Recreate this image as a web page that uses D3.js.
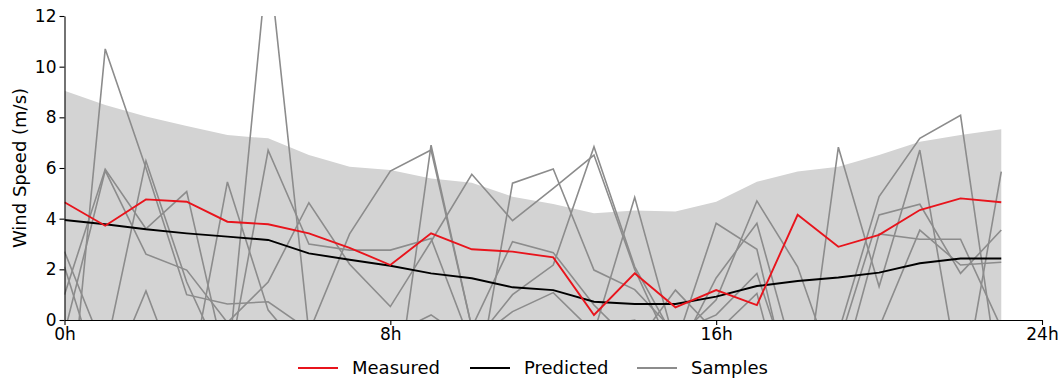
<!DOCTYPE html>
<html>
<head>
<meta charset="utf-8">
<script src="https://cdn.jsdelivr.net/npm/d3@7/dist/d3.min.js"></script>
<style>
  html, body { margin: 0; padding: 0; background: #fff; }
  svg { display: block; font-family: "DejaVu Sans", sans-serif; }
</style>
</head>
<body>
<svg id="chart" width="1064" height="380"></svg>
<script>
// Hour of day for each reading
const hours = [0,1,2,3,4,5,6,7,8,9,10,11,12,13,14,15,16,17,18,19,20,21,22,23];

// Observed wind speed (m/s)
const measured = [4.65,3.72,4.76,4.67,3.88,3.78,3.42,2.85,2.17,3.42,2.79,2.70,2.47,0.20,1.84,0.50,1.18,0.59,4.15,2.89,3.36,4.34,4.80,4.65];

// Model forecast (m/s)
const predicted = [3.95,3.78,3.58,3.42,3.29,3.16,2.63,2.38,2.14,1.84,1.65,1.29,1.18,0.72,0.63,0.63,0.92,1.34,1.54,1.68,1.87,2.24,2.43,2.43];

// Upper edge of the forecast uncertainty band (m/s)
const bandUpper = [9.05,8.49,8.03,7.66,7.30,7.17,6.51,6.05,5.92,5.59,5.42,4.87,4.58,4.21,4.32,4.28,4.67,5.46,5.86,6.05,6.51,7.04,7.30,7.53];

// Ensemble sample trajectories (m/s)
const sample1 = [-6.0,10.7,6.0,1.0,0.63,0.72,-0.4,-1.5,-0.6,0.2,-0.9,0.33,1.08,-0.5,4.84,-1.0,3.82,2.79,-4.0,-0.5,4.87,7.17,8.08,-3.0];
const sample2 = [1.0,5.95,3.6,5.07,-2.0,14.5,-0.5,3.4,5.88,6.71,-0.3,3.09,2.66,0.59,-1.0,1.18,-0.5,1.05,-5.0,6.82,1.32,6.71,-2.6,-1.0];
const sample3 = [-0.5,5.9,2.6,1.97,-0.1,1.5,4.63,2.2,0.53,3.1,5.75,3.92,5.2,6.51,2.0,-1.5,1.66,3.82,-2.0,-1.0,4.15,4.57,1.84,3.55];
const sample4 = [2.7,-1.3,6.28,1.5,-2.0,6.7,3.0,2.76,2.76,3.22,-1.0,1.0,2.17,6.84,2.1,-0.8,0.8,4.7,2.1,-2.5,3.4,3.19,3.19,-0.3];
const sample5 = [-2.0,-2.7,1.15,-3.1,5.45,0.39,-1.5,-2.5,-4.6,6.9,-0.3,-1.0,-0.5,-0.3,0.0,-1.5,-0.8,-0.5,-1.5,-0.5,-0.3,3.55,2.17,2.28];
const sample6 = [2.1,-3.0,-1.5,-2.0,-1.5,-1.0,-2.0,-1.0,-2.0,-1.5,-3.7,5.4,5.96,1.97,1.2,-0.5,0.2,1.84,-3.0,-2.0,-1.5,-1.0,-3.3,5.86];
const samples = [sample1, sample2, sample3, sample4, sample5, sample6];

// Axis ticks
const xTicks = [0, 8, 16, 24];
const xTickLabels = ["0h", "8h", "16h", "24h"];
const yTicks = [0, 2, 4, 6, 8, 10, 12];

const legendItems = [
  { label: "Measured", color: "#e8141c" },
  { label: "Predicted", color: "#000000" },
  { label: "Samples", color: "#8c8c8c" }
];

const svg = d3.select("#chart");
const plot = { left: 64.5, right: 1042, top: 16, bottom: 320 };

const x = d3.scaleLinear().domain([0, 24]).range([plot.left, plot.right]);
const y = d3.scaleLinear().domain([0, 12]).range([plot.bottom, plot.top]);

svg.append("defs").append("clipPath").attr("id", "plot-clip")
  .append("rect")
  .attr("x", plot.left).attr("y", plot.top)
  .attr("width", plot.right - plot.left).attr("height", plot.bottom - plot.top);

const body = svg.append("g").attr("clip-path", "url(#plot-clip)");

// Uncertainty band from zero up to the upper bound
const band = d3.area()
  .x((d, i) => x(hours[i]))
  .y0(y(0))
  .y1(d => y(d));
body.append("path")
  .datum(bandUpper)
  .attr("d", band)
  .attr("fill", "#d3d3d3");

const line = d3.line().x((d, i) => x(hours[i])).y(d => y(d));

body.selectAll("path.sample")
  .data(samples)
  .join("path")
  .attr("class", "sample")
  .attr("d", line)
  .attr("fill", "none")
  .attr("stroke", "#8c8c8c")
  .attr("stroke-width", 1.6);

body.append("path")
  .datum(predicted)
  .attr("d", line)
  .attr("fill", "none")
  .attr("stroke", "#000")
  .attr("stroke-width", 1.9);

body.append("path")
  .datum(measured)
  .attr("d", line)
  .attr("fill", "none")
  .attr("stroke", "#e8141c")
  .attr("stroke-width", 1.9);

// Axes: left and bottom spines only
const xAxis = d3.axisBottom(x)
  .tickValues(xTicks)
  .tickFormat((d, i) => xTickLabels[i])
  .tickSize(5).tickSizeOuter(0).tickPadding(3);
const gx = svg.append("g")
  .attr("transform", `translate(0,${plot.bottom})`)
  .call(xAxis);

const yAxis = d3.axisLeft(y)
  .tickValues(yTicks)
  .tickFormat(d3.format("d"))
  .tickSize(5).tickSizeOuter(0).tickPadding(3);
const gy = svg.append("g")
  .attr("transform", `translate(${plot.left},0)`)
  .call(yAxis);

[gx, gy].forEach(g => {
  g.select(".domain").attr("stroke", "#000").attr("stroke-width", 1.1);
  g.selectAll(".tick line").attr("stroke", "#000").attr("stroke-width", 1.1);
  g.selectAll(".tick text").attr("fill", "#000").attr("font-size", 17)
    .attr("font-family", "DejaVu Sans, sans-serif");
});

svg.append("text")
  .attr("transform", `translate(26,${(plot.top + plot.bottom) / 2}) rotate(-90)`)
  .attr("text-anchor", "middle")
  .attr("font-size", 18)
  .attr("fill", "#000")
  .text("Wind Speed (m/s)");

// Legend centred under the axes
const legend = svg.append("g").attr("transform", "translate(0,368)");
const legendX = [298, 470, 637];
legendItems.forEach((item, i) => {
  const g = legend.append("g").attr("transform", `translate(${legendX[i]},0)`);
  g.append("line")
    .attr("x1", 0).attr("x2", 40).attr("y1", 0).attr("y2", 0)
    .attr("stroke", item.color).attr("stroke-width", 1.9);
  g.append("text")
    .attr("x", 54).attr("y", 0).attr("dy", "0.35em")
    .attr("font-size", 18).attr("fill", "#000")
    .text(item.label);
});
</script>
</body>
</html>
